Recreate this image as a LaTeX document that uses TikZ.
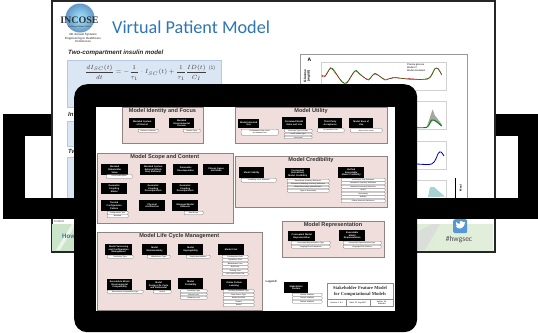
\documentclass[tikz,border=0pt]{standalone}
\usepackage{fontspec}
\setmainfont{Liberation Sans}
\newfontfamily\slidefont{Carlito}
\newfontfamily\serifface{Liberation Serif}
\definecolor{panelpink}{HTML}{F0DEDC}
\definecolor{panelline}{HTML}{8F8383}
\definecolor{slideblue}{HTML}{2E75B6}
\definecolor{eqfill}{HTML}{DBE6F4}
\definecolor{eqline}{HTML}{B4C9E8}
\definecolor{footleft}{HTML}{CBE5C8}
\definecolor{footright}{HTML}{E2EEDB}
\newcommand{\pnl}[6]{\node[panelbox,minimum width={(#4-#2)*1pt},minimum height={(#5-#3)*1pt}] (#1) at (#2,#3) {};
  \node[paneltitle] (#1t) at ({(#2+#4)/2},{#3+4.5}) {#6};}
\newcommand{\blk}[6]{\node[blackbox,minimum width={(#4-#2)*1pt},minimum height={(#5-#3)*1pt},text width={(#4-#2-1)*1pt}] (#1) at (#2,#3) {#6};}
\newcommand{\pil}[6]{\node[pillbox,minimum width={(#4-#2)*1pt},minimum height={(#5-#3)*1pt},text width={(#4-#2-1)*1pt}] (#1) at (#2,#3) {#6};}
\tikzset{
 panelbox/.style={anchor=north west,draw=panelline,line width=.6pt,fill=panelpink,inner sep=0pt},
 paneltitle/.style={inner sep=0pt,font=\fontsize{5.6}{6}\selectfont\bfseries,text=black!80},
 blackbox/.style={anchor=north west,fill=black,text=white,inner sep=0pt,align=center,font=\fontsize{2.3}{2.6}\selectfont\bfseries},
 pillbox/.style={anchor=north west,fill=white,draw=black!55,line width=.3pt,rounded corners=.8pt,inner sep=0pt,align=center,font=\fontsize{1.7}{1.9}\selectfont\bfseries,text=black!80},
 solid black/.style={fill=black,draw=none},
 plotpanel/.style={draw=black!18,line width=.4pt,fill=white},
}
\begin{document}
\begin{tikzpicture}[x=1pt,y=-1pt]
\useasboundingbox (0,0) rectangle (538,332);
\fill[white] (0,0) rectangle (538,332);
% slide
\node[anchor=north west,draw=black!85,line width=2pt,fill=white,inner sep=0pt,minimum width=443pt,minimum height=251pt] (slide) at (51,0) {};
% logo
\node[circle,inner sep=0pt,minimum size=29pt,shading=radial,inner color=blue!25!cyan!35!white,outer color=slideblue!75] (logo) at (80,18) {};
\node[font=\serifface\fontsize{10}{10}\selectfont\bfseries,text=black!80,inner sep=0pt] (incose) at (79.5,20) {INCOSE};
\node[font=\fontsize{2}{2}\selectfont\bfseries,text=black!70,inner sep=0pt] (logosub) at (79.5,26.5) {Building a Better Future};
\node[font=\fontsize{2.9}{3.6}\selectfont\bfseries,text=black!65,align=center,inner sep=0pt] (conf) at (83,38) {4th Annual Systems\\Engineering in Healthcare\\Conference};
\node[anchor=west,font=\slidefont\fontsize{18.2}{20}\selectfont,text=slideblue,inner sep=0pt] (title) at (112,27) {Virtual Patient Model};
\node[anchor=west,font=\fontsize{6.2}{7}\selectfont\bfseries\itshape,text=black!85,inner sep=0pt] (two1) at (68,53) {Two-compartment insulin model};
\node[anchor=north west,fill=eqfill,draw=eqline,line width=.8pt,minimum width=154pt,minimum height=47pt,inner sep=0pt] (eq1box) at (67,60) {};
\node[anchor=west,inner sep=0pt,font=\fontsize{6}{7}\selectfont,text=black!75] (eq1) at (85,72.5) {$\displaystyle\frac{dI_{SC}(t)}{dt}=-\frac{1}{\tau_1}\cdot I_{SC}(t)+\frac{1}{\tau_1}\frac{ID(t)}{C_I}$};
\node[font=\fontsize{5}{6}\selectfont,text=black!65,inner sep=0pt] (eq1n) at (212,68) {(1)};
\node[anchor=west,font=\fontsize{6}{7}\selectfont\bfseries\itshape,text=black!85,inner sep=0pt] (ins) at (68,114) {In};
\node[anchor=north west,fill=eqfill,draw=eqline,line width=.8pt,minimum width=20pt,minimum height=25pt,inner sep=0pt] (eq2box) at (67,120.5) {};
\node[anchor=west,font=\fontsize{6}{7}\selectfont\bfseries\itshape,text=black!85,inner sep=0pt] (two2) at (68,151) {Tw};
\node[anchor=north west,fill=eqfill,draw=eqline,line width=.8pt,minimum width=20pt,minimum height=45pt,inner sep=0pt] (eq3box) at (67,157) {};
% footer
\node[anchor=north west,inner sep=0pt,minimum width=441pt,minimum height=26pt,left color=footleft,right color=footright] (foot) at (52,224) {};
\fill[white,opacity=.6] (56,250) -- (72,224) -- (76,224) -- (60,250) -- cycle;
\fill[white!85!black,opacity=.7] (417,232) -- (432,224) -- (440,224) -- (425,250) -- (417,250) -- cycle;
\node[anchor=west,inner sep=0pt,font=\fontsize{3}{3}\selectfont,text=black!75] (ctl) at (54,221) {Control};
\node[anchor=west,inner sep=0pt,font=\slidefont\fontsize{7}{8}\selectfont\bfseries,text=slideblue] (how) at (62,236.5) {How};
\node[anchor=north west,fill=cyan!60!blue!70,rounded corners=2pt,minimum width=14pt,minimum height=14pt,inner sep=0pt] (tw) at (453,219) {};
\fill[white] (455.5,226) .. controls (458,230) and (464,230) .. (465,222) -- (463,222) .. controls (461,220) and (459,221) .. (460,224) .. controls (458,224) and (457,223) .. (456,222) .. controls (456,224) and (456,225) .. (457,226) -- cycle;
\node[inner sep=0pt,font=\slidefont\fontsize{7.5}{8}\selectfont,text=black!70] (tag) at (459,239.5) {\#hwgsec};
% chart
\node[anchor=north west,draw=black!40,line width=.6pt,fill=white,minimum width=167pt,minimum height=150pt,inner sep=0pt] (chart) at (300,54) {};
\node[plotpanel,anchor=north west,minimum width=125pt,minimum height=28pt,inner sep=0pt] (pa) at (321,62) {};
\node[plotpanel,anchor=north west,minimum width=125pt,minimum height=28pt,inner sep=0pt] (pb) at (321,101) {};
\node[plotpanel,anchor=north west,minimum width=125pt,minimum height=28pt,inner sep=0pt] (pc) at (321,141) {};
\node[plotpanel,anchor=north west,minimum width=125pt,minimum height=28pt,inner sep=0pt] (pd) at (321,180) {};
\node[font=\fontsize{5}{5}\selectfont\bfseries,inner sep=0pt] (la) at (309.5,60) {A};
\node[rotate=90,font=\fontsize{3.2}{3.6}\selectfont\bfseries,align=center,inner sep=0pt] (gl) at (307,76) {Glucose\\(mg/dl)};
\node[anchor=north west,font=\fontsize{2.4}{3}\selectfont,align=left,inner sep=0pt] (lg) at (407,64) {Plasma glucose\\Model CI\\Model simulation};
\begin{scope}[shift={(270,0)},x=.3333pt,y=-.3333pt]
\draw[green!50!black,line width=.55pt,smooth] plot coordinates {(155,225)(165,228)(182,203)(195,215)(215,245)(230,248)(255,212)(270,222)(295,240)(315,220)(345,240)(370,232)(420,238)(475,235)(495,205)(505,208)(515,225)};
\draw[red!65!black,line width=.35pt,smooth] plot coordinates {(155,228)(165,230)(182,205)(195,218)(215,243)(230,250)(255,214)(270,224)(295,238)(315,222)(345,238)(370,234)(420,236)(475,237)(495,207)(505,206)(515,223)};
\fill[black!35] (470,382) -- (482,345) -- (488,328) -- (494,345) -- (515,372) -- (515,380) -- (490,360) -- cycle;
\draw[green!50!black,line width=.9pt,smooth] plot coordinates {(420,382)(470,382)(485,360)(500,365)(515,378)};
\draw[blue!70!black,line width=.8pt,smooth] plot coordinates {(420,490)(485,492)(505,460)(513,456)(522,468)};
\fill[teal!35] (474,591) -- (480,562) -- (492,561) -- (525,590) -- cycle;
\end{scope}
\draw[line width=.6pt] (455.5,178) -- (455.5,198);
\node[rotate=90,font=\fontsize{2.8}{3}\selectfont\bfseries,inner sep=0pt] (meal) at (460.5,188) {Meal};
% frame bars
\fill[solid black] (3,114) rectangle (51,136);
\fill[solid black] (3,114) rectangle (25,219);
\fill[solid black] (3,198) rectangle (538,219);
\fill[solid black] (496,114) rectangle (538,136);
\fill[solid black] (518,114) rectangle (538,219);
% tablet
\node[anchor=north west,fill=black,rounded corners=13pt,minimum width=343pt,minimum height=248pt,inner sep=0pt] (tablet) at (74,84) {};
\node[anchor=north west,fill=white,minimum width=299pt,minimum height=204pt,inner sep=0pt] (screen) at (96,106.5) {};
% panels
\pnl{p1}{122}{107}{203}{143}{Model Identity and Focus}
\pnl{p2}{96.5}{153}{233}{223}{Model Scope and Content}
\pnl{p3}{235}{107}{387}{143}{Model Utility}
\pnl{p4}{235}{156}{387}{207}{Model Credibility}
\pnl{p5}{282}{221}{384}{257}{Model Representation}
\pnl{p6}{96.5}{232}{262}{310}{Model Life Cycle Management}
% identity
\blk{a1}{129}{118}{155}{128}{Modeled System\\of Interest}
\blk{a2}{169}{118}{194}{128}{Modeled\\Environmental\\Domain}
\pil{a1p}{138}{129}{158}{132}{Classes of Interest}
\pil{a2p}{183}{129}{200}{132}{Domain Type}
% scope
\blk{b1}{101}{164}{128}{175}{Modeled\\Stakeholder\\Value}
\blk{b2}{140}{164}{166}{175}{Modeled System\\External (Black\\Box) Behavior}
\blk{b3}{173}{164}{198}{175}{Parametric\\Decomposition}
\blk{b4}{203}{164}{229}{175}{Fitness Space\\and Mode}
\blk{b5}{101}{183}{127}{194}{Geometric\\Coupling\\Model}
\blk{b6}{140}{183}{166}{194}{Geometric\\Coupling\\Decomposition}
\blk{b7}{172}{183}{198}{194}{Geometric\\Coupling\\Decomposition}
\blk{b8}{101}{200}{127}{211}{Trusted\\Configuration\\Pattern}
\blk{b9}{139}{200}{165}{211}{Physical\\Architecture}
\blk{b10}{172}{200}{198}{211}{Managed Model\\Datasets}
\pil{b1p}{106}{174.5}{132}{178}{Scope Description}
\pil{b8p}{107}{211}{128}{214}{Configuration Type}
\pil{b8q}{107}{214}{128}{217.5}{Metadata}
\pil{b10p}{184}{211}{203}{214.5}{Data Scope}
% utility
\blk{c1}{238}{119}{259}{128}{Model Intended\\Use}
\blk{c2}{282}{117}{306}{129}{Perceived Model\\Value and Use}
\blk{c3}{318}{118}{342}{128}{Third Party\\Acceptance}
\blk{c4}{349}{118}{373}{128}{Model Ease of\\Use}
\pil{c1p}{241}{129}{278}{135}{Performance Ease Level\\for Intended Use}
\pil{c2p}{284}{129}{312}{132}{Level and Type of Value}
\pil{c2q}{284}{133}{312}{135.5}{Level of Use Type}
\pil{c2r}{284}{136}{312}{138.5}{Cost Level}
\pil{c3p}{317}{128.5}{344}{132}{Acceptance Level}
\pil{c4p}{350}{128.5}{382}{132}{Ease of Use Level}
% credibility
\blk{d1}{239}{167}{264}{178}{Model Validity}
\blk{d2}{285}{168}{310}{178}{Conceptual\\(Interaction)\\Model Credibility}
\blk{d3}{338}{167}{364}{178}{Verified\\Executable\\Model Credibility}
\pil{d1p}{241}{178}{276}{182}{Credibility Level Achieved}
\pil{d2a}{287}{179}{329}{182.5}{Uncertainty Accuracy Reference}
\pil{d2b}{287}{183}{329}{185.5}{Parametric Modeling Accuracy Reference}
\pil{d2c}{287}{186}{329}{188.5}{Model Uncertainty Quantification}
\pil{d2d}{287}{189}{329}{192}{Type of Uncertainty}
\pil{d3a}{341}{178}{385}{181}{Verification Test Reference}
\pil{d3b}{341}{181.5}{385}{184.5}{Parametric Accuracy Reference}
\pil{d3c}{341}{185}{385}{188}{Numerical Accuracy Reference}
\pil{d3d}{341}{188.5}{385}{191.5}{Speed}
\pil{d3e}{341}{192}{385}{195}{Uncertainty}
\pil{d3f}{341}{195.5}{385}{198.5}{Stability}
\pil{d3g}{341}{199}{385}{202.5}{Failure Detection Reference}
% representation
\blk{e1}{288}{231}{315}{241}{Conceptual Model\\Representation}
\blk{e2}{339}{230}{365}{241}{Executable\\Model\\Representation}
\pil{e1p}{291}{241}{330}{244.5}{Conceptual Representation Type}
\pil{e1q}{291}{245}{330}{248}{Language/Tool Framework}
\pil{e2p}{343}{241}{381}{244.5}{Executable Representation Type}
\pil{e2q}{343}{245}{381}{248}{Language/Tool Platform}
% life cycle
\blk{f1}{105}{244}{132}{255}{Model Versioning\\and Configuration\\Management}
\blk{f2}{142}{244}{167}{255}{Model\\Maintainability}
\blk{f3}{178}{244}{203}{255}{Model\\Deployability}
\blk{f4}{218}{244}{244}{255}{Model Cost}
\pil{f1p}{107}{255}{133}{258}{Versioning Type}
\pil{f2p}{147}{255}{170}{258}{Maintenance Type}
\pil{f3p}{186}{255}{210}{258}{Deployment Method}
\pil{f4a}{222}{255}{248}{258}{Development Cost}
\pil{f4b}{222}{258.5}{248}{261.5}{Operations Cost}
\pil{f4c}{222}{262}{248}{265}{Maintenance Cost}
\pil{f4d}{222}{265.5}{248}{268.5}{Risk Cost}
\pil{f4e}{222}{269}{248}{272}{Training Cost}
\pil{f4f}{222}{272.5}{248}{275.5}{Life Cycle Period Cost}
\blk{f5}{107}{279}{132}{290}{Executable Model\\Environmental\\Compatibility}
\blk{f6}{146}{280}{171}{290}{Model\\Design Life Cycle\\and Retirement}
\blk{f7}{178}{278}{203}{289}{Model\\Portability}
\blk{f8}{221}{279}{247}{290}{Online Pattern\\Learning}
\pil{f5p}{107}{290}{143}{293}{Environment Compatibility Type}
\pil{f6p}{153}{290}{171}{293}{Period}
\pil{f7a}{180}{289.5}{207}{292.5}{Portability Type}
\pil{f7b}{180}{293}{207}{295.5}{Source Level}
\pil{f7c}{180}{296}{207}{299}{Hardware Level}
\pil{f8a}{223}{289.5}{254}{292.5}{Learning Parameter Type}
\pil{f8b}{223}{293}{254}{296}{Data Source Type}
\pil{f8c}{223}{296.5}{254}{299.5}{Model Precision}
\pil{f8d}{223}{300}{254}{303}{Feature}
\pil{f8e}{223}{303.5}{254}{306.5}{Period}
% legend
\node[anchor=west,inner sep=0pt,font=\fontsize{3}{3}\selectfont\bfseries,text=black!80] (leg) at (265.5,281.5) {Legend:};
\blk{g1}{284}{282}{308}{293}{Stakeholder\\Feature}
\pil{g1a}{292}{293}{322}{296}{Feature Attribute}
\pil{g1b}{292}{296.5}{322}{299.5}{Feature Attribute}
\pil{g1c}{292}{300}{322}{303}{Feature Attribute}
% title block
\node[anchor=north west,draw=black!45,line width=.5pt,fill=white,minimum width=66pt,minimum height=23pt,inner sep=0pt] (tb) at (327,283) {};
\node[align=center,inner sep=0pt,font=\serifface\fontsize{4.6}{5.9}\selectfont\bfseries,text=black!80] (tbt) at (360,291) {Stakeholder Feature Model\\for Computational Models};
\node[anchor=north west,draw=black!45,line width=.3pt,minimum width=19pt,minimum height=7pt,inner sep=0pt,font=\fontsize{2}{2}\selectfont] (tb1) at (327,299) {Version: 1.6.1};
\node[anchor=north west,draw=black!45,line width=.3pt,minimum width=24pt,minimum height=7pt,inner sep=0pt,font=\fontsize{2}{2}\selectfont] (tb2) at (346,299) {Date: 21 Aug 2017};
\node[anchor=north west,draw=black!45,line width=.3pt,minimum width=23pt,minimum height=7pt,inner sep=0pt,font=\fontsize{2}{2.3}\selectfont,align=center] (tb3) at (370,299) {Author: W.\\Schindel};
\end{tikzpicture}
\end{document}
